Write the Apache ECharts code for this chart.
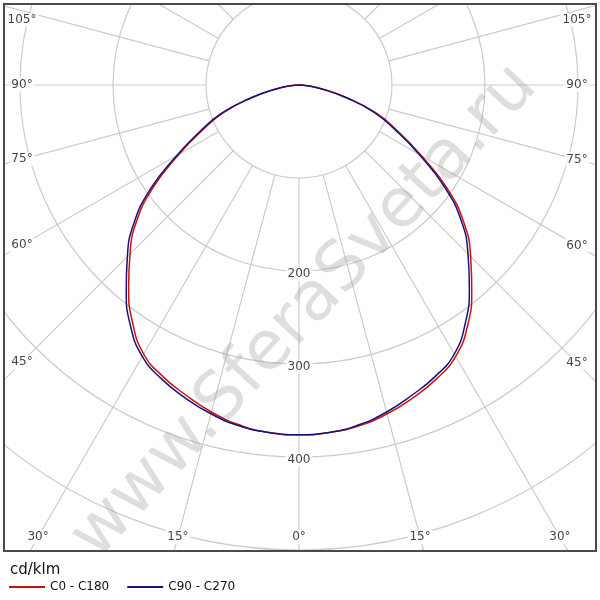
<!DOCTYPE html>
<html><head><meta charset="utf-8">
<script src="https://cdn.jsdelivr.net/npm/echarts@6/dist/echarts.min.js"></script>
<style>html,body{margin:0;padding:0;background:#fff}#c{width:600px;height:600px}</style>
</head><body><div id="c"></div>
<script>
// ---- data (cd/klm vs gamma angle, degrees from nadir) ----
const gamma = [0, 5, 10, 15, 20, 25, 30, 35, 40, 45, 50, 55, 60, 65, 70, 75, 80, 85, 90];
const c0   = [376, 375, 372, 366, 358, 349, 337, 316, 289, 261, 232, 195, 152, 117, 88, 54, 26, 9, 0]; // right half, red
const c180 = [376, 375, 371, 364, 355, 346, 334, 312, 285, 257, 228, 191, 149, 114, 86, 52, 25, 9, 0]; // left half, red
const c90  = [376, 375, 371, 364, 355, 346, 334, 312, 285, 257, 228, 191, 149, 114, 86, 52, 25, 9, 0]; // right half, blue
const c270 = [376, 375, 372, 366, 358, 349, 337, 316, 289, 261, 232, 195, 152, 117, 88, 54, 26, 9, 0]; // left half, blue
const radiusTickLabels = [200, 300, 400];
const angleTickLabels = [0, 15, 30, 45, 60, 75, 90, 105];
const seriesNames = ['C0 - C180', 'C90 - C270'];
const unitLabel = 'cd/klm';
const watermark = 'www.SferaSveta.ru';

// ---- layout ----
const CX = 299, CY = 85, RMAX = 600, R = 558;
const ppu = R / RMAX;
const FR = {x: 4, y: 4, w: 592, h: 547};
const LAB_L = 22, LAB_R = 577, LAB_B = 537, LAB_T = 20;
const FONT = 'DejaVu Sans';

function planeCurve(left, right) {
  const pts = [];
  for (let i = gamma.length - 1; i >= 0; i--) pts.push([left[i], gamma[i]]);
  for (let i = 1; i < gamma.length; i++) pts.push([right[i], -gamma[i]]);
  return pts;
}

function labelPoint(g, side) {
  const rad = g * Math.PI / 180;
  const s = Math.sin(rad), c = Math.cos(rad);
  let t = Infinity;
  if (s > 1e-6) t = Math.min(t, (side < 0 ? CX - LAB_L : LAB_R - CX) / s);
  if (c > 1e-6) t = Math.min(t, (LAB_B - CY) / c);
  let px = CX + side * t * s, py = CY + t * c;
  if (py < LAB_T) py = LAB_T;
  const dx = px - CX, dy = py - CY;
  const r = Math.sqrt(dx * dx + dy * dy) / ppu;
  const ang = Math.atan2(Math.abs(dx), dy) * 180 / Math.PI;
  return [r, side < 0 ? ang : -ang, g + '°'];
}

const angleLabelData = [];
angleTickLabels.forEach(g => {
  angleLabelData.push(labelPoint(g, -1));
  if (g !== 0) angleLabelData.push(labelPoint(g, 1));
});
const radiusLabelData = radiusTickLabels.map(v => [v, 0, String(v)]);

const gridColor = '#cbcbcb';
function angleAxis(idx, showSplit) {
  return {polarIndex: idx, type: 'value', min: -180, max: 180, interval: 15,
    startAngle: 90, clockwise: true,
    axisLine: {show: false}, axisTick: {show: false}, axisLabel: {show: false},
    splitLine: {show: showSplit, lineStyle: {color: gridColor, width: 1.2}}};
}

const labelStyle = {show: true, position: 'inside', formatter: p => p.data[2],
  backgroundColor: '#fff', padding: [1, 2], color: '#111', fontSize: 12, fontFamily: FONT};

const chart = echarts.init(document.getElementById('c'));
chart.setOption({
  animation: false,
  backgroundColor: '#fff',
  polar: [
    {center: [CX, CY], radius: [0, R]},
    {center: [CX, CY], radius: [R * 100 / RMAX, R]}
  ],
  angleAxis: [angleAxis(0, false), angleAxis(1, true)],
  radiusAxis: [
    {polarIndex: 0, type: 'value', min: 0, max: RMAX, interval: 100,
     axisLine: {show: false}, axisTick: {show: false}, axisLabel: {show: false},
     splitLine: {show: true, lineStyle: {color: gridColor, width: 1.2}}},
    {polarIndex: 1, type: 'value', min: 100, max: RMAX, interval: 100,
     axisLine: {show: false}, axisTick: {show: false}, axisLabel: {show: false},
     splitLine: {show: false}}
  ],
  title: {text: unitLabel, left: 10, top: 563, padding: 0,
    textStyle: {fontSize: 15, fontWeight: 'normal', color: '#111', fontFamily: FONT}, z: 60},
  legend: {data: seriesNames, left: 9, top: 581, padding: 0, itemGap: 18, itemWidth: 36, itemHeight: 2,
    icon: 'rect', textStyle: {fontSize: 12, color: '#111', fontFamily: FONT}, z: 60},
  graphic: [
    {type: 'text', x: 305, y: 312, rotation: 47 * Math.PI / 180, z: 1, silent: true,
     style: {text: watermark, fill: 'rgba(160,160,160,0.35)', font: '68px "DejaVu Sans"',
       textAlign: 'center', textVerticalAlign: 'middle'}},
    {type: 'rect', z: 50, shape: {x: 0, y: 0, width: 600, height: FR.y}, style: {fill: '#fff'}},
    {type: 'rect', z: 50, shape: {x: 0, y: 0, width: FR.x, height: 600}, style: {fill: '#fff'}},
    {type: 'rect', z: 50, shape: {x: FR.x + FR.w, y: 0, width: 600, height: 600}, style: {fill: '#fff'}},
    {type: 'rect', z: 50, shape: {x: 0, y: FR.y + FR.h, width: 600, height: 600}, style: {fill: '#fff'}},
    {type: 'rect', z: 51, shape: {x: FR.x, y: FR.y, width: FR.w, height: FR.h},
     style: {fill: 'none', stroke: '#4a4a4a', lineWidth: 2}}
  ],
  series: [
    {name: seriesNames[0], type: 'line', coordinateSystem: 'polar', polarIndex: 0,
     data: planeCurve(c180, c0), symbol: 'none', smooth: 0.5, z: 3,
     lineStyle: {color: '#cc1111', width: 1.5}, itemStyle: {color: '#cc1111'}},
    {name: seriesNames[1], type: 'line', coordinateSystem: 'polar', polarIndex: 0,
     data: planeCurve(c270, c90), symbol: 'none', smooth: 0.5, z: 4,
     lineStyle: {color: '#14147a', width: 1.5}, itemStyle: {color: '#14147a'}},
    {type: 'scatter', coordinateSystem: 'polar', polarIndex: 0, data: radiusLabelData,
     symbolSize: 0, itemStyle: {color: 'rgba(0,0,0,0)'}, label: Object.assign({}, labelStyle, {offset: [0, 3]}),
     z: 5, silent: true},
    {type: 'scatter', coordinateSystem: 'polar', polarIndex: 0, data: angleLabelData,
     symbolSize: 0, itemStyle: {color: 'rgba(0,0,0,0)'}, label: labelStyle, z: 55, silent: true}
  ]
});
</script></body></html>
